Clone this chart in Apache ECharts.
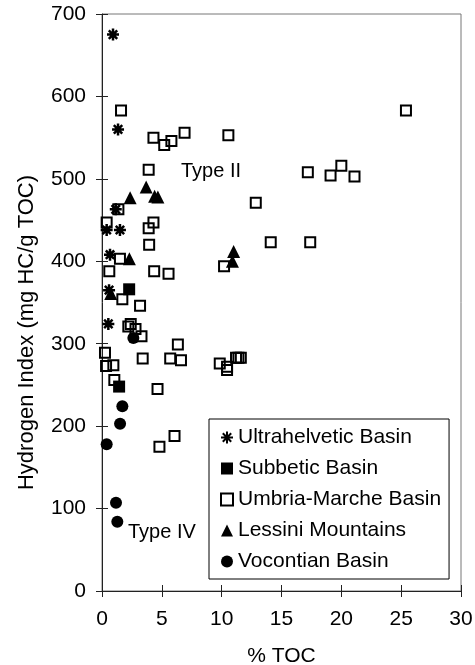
<!DOCTYPE html>
<html>
<head>
<meta charset="utf-8">
<title>Hydrogen Index vs TOC</title>
<script src="https://cdn.jsdelivr.net/npm/echarts@6/dist/echarts.min.js"></script>
<style>
  html, body { margin: 0; padding: 0; background: #fff; }
  #chart { width: 475px; height: 665px; }
</style>
</head>
<body>
<div id="chart"></div>
<script>
// values: [% TOC, HI]
var ultrahelvetic = [[0.92, 675], [1.34, 560], [1.15, 463], [0.39, 438], [1.5, 438],
  [0.67, 408], [0.59, 365], [0.53, 324]]
var subbetic = [[2.27, 366], [1.43, 248]]
var umbriaMarche = [[1.59, 583], [4.3, 550], [5.2, 541], [5.8, 546], [6.9, 556], [3.9, 511],
  [10.56, 553], [25.4, 583], [17.2, 508], [19.1, 504], [20.0, 516], [21.1, 503],
  [12.85, 471], [14.1, 423], [17.4, 423], [10.2, 394], [9.84, 276], [10.45, 268],
  [10.45, 272], [11.2, 283], [11.4, 283], [11.6, 283], [3.9, 440], [4.3, 447],
  [3.94, 420], [0.39, 447], [1.37, 463], [1.5, 403], [0.61, 388], [4.36, 388],
  [5.56, 385], [1.7, 354], [3.18, 346], [2.4, 324], [2.2, 321], [2.8, 318], [3.3, 309],
  [6.34, 299], [5.7, 282], [6.6, 280], [3.4, 282], [0.25, 289], [0.34, 273], [0.95, 274],
  [1.03, 256], [4.64, 245], [4.8, 175], [6.06, 188]]
var lessini = [[2.35, 477], [3.69, 490], [4.4, 479], [4.67, 478], [2.29, 403], [0.73, 361],
  [11.0, 412], [10.9, 400]]
var vocontian = [[2.62, 307], [1.7, 224], [1.51, 203], [0.39, 178], [1.17, 107], [1.28, 84]]

var seriesNames = ['Ultrahelvetic Basin', 'Subbetic Basin', 'Umbria-Marche Basin',
  'Lessini Mountains', 'Vocontian Basin']
var xTicks = { min: 0, max: 30, interval: 5 }
var yTicks = { min: 0, max: 700, interval: 100 }

var font = '"Liberation Sans", Arial, sans-serif'
var asterisk = 'path://M0,-6L0,6M-6,0L6,0M-4.2,-4.2L4.2,4.2M-4.2,4.2L4.2,-4.2'
var axisColor = '#222'

var chart = echarts.init(document.getElementById('chart'))
var option = {
  animation: false,
  backgroundColor: '#fff',
  textStyle: { fontFamily: font, color: '#000' },
  grid: {
    left: 102, right: 14, top: 14, bottom: 74,
    outerBoundsMode: 'none',
    show: true, borderColor: '#777', borderWidth: 1
  },
  legend: {
    orient: 'vertical',
    left: 209, top: 419,
    padding: [8, 8, 7, 11],
    itemGap: 10,
    itemWidth: 12, itemHeight: 12,
    backgroundColor: '#fff',
    borderColor: '#000', borderWidth: 1,
    textStyle: { fontFamily: font, fontSize: 21, color: '#000' },
    data: seriesNames
  },
  xAxis: [
    {
      type: 'value',
      min: xTicks.min, max: xTicks.max, interval: xTicks.interval,
      name: '% TOC', nameLocation: 'middle', nameGap: 55,
      nameTextStyle: { fontFamily: font, fontSize: 21, color: '#000' },
      axisLine: { show: true, lineStyle: { color: axisColor, width: 1 } },
      axisTick: { show: true, length: 6, lineStyle: { color: axisColor } },
      axisLabel: { fontFamily: font, fontSize: 21, color: '#000', margin: 18 },
      splitLine: { show: false }
    },
    {
      type: 'value', position: 'bottom',
      min: xTicks.min, max: xTicks.max, interval: xTicks.interval,
      axisLine: { show: false },
      axisTick: { show: true, inside: true, length: 6, lineStyle: { color: axisColor } },
      axisLabel: { show: false },
      splitLine: { show: false }
    }
  ],
  yAxis: [
    {
      type: 'value',
      min: yTicks.min, max: yTicks.max, interval: yTicks.interval,
      name: 'Hydrogen Index (mg HC/g TOC)', nameLocation: 'middle', nameGap: 64,
      nameTextStyle: { fontFamily: font, fontSize: 22, color: '#000', padding: [0, 60, 0, 0] },
      axisLine: { show: true, lineStyle: { color: axisColor, width: 1 } },
      axisTick: { show: true, length: 6, lineStyle: { color: axisColor } },
      axisLabel: { fontFamily: font, fontSize: 21, color: '#000', margin: 16 },
      splitLine: { show: false }
    },
    {
      type: 'value', position: 'left',
      min: yTicks.min, max: yTicks.max, interval: yTicks.interval,
      axisLine: { show: false },
      axisTick: { show: true, inside: true, length: 6, lineStyle: { color: axisColor } },
      axisLabel: { show: false },
      splitLine: { show: false }
    }
  ],
  graphic: [
    { type: 'text', left: 181, top: 161, style: { text: 'Type II', font: '20px ' + font, fill: '#000' } },
    { type: 'text', left: 128, top: 522, style: { text: 'Type IV', font: '20px ' + font, fill: '#000' } }
  ],
  series: [
    {
      name: seriesNames[0], type: 'scatter', data: ultrahelvetic,
      symbol: asterisk, symbolSize: 12,
      itemStyle: { color: 'transparent', borderColor: '#000', borderWidth: 2.5, opacity: 1 }
    },
    {
      name: seriesNames[1], type: 'scatter', data: subbetic,
      symbol: 'rect', symbolSize: 12,
      itemStyle: { color: '#000', opacity: 1 }
    },
    {
      name: seriesNames[2], type: 'scatter', data: umbriaMarche,
      symbol: 'rect', symbolSize: 10,
      itemStyle: { color: 'transparent', borderColor: '#000', borderWidth: 2, opacity: 1 }
    },
    {
      name: seriesNames[3], type: 'scatter', data: lessini,
      symbol: 'triangle', symbolSize: 13,
      itemStyle: { color: '#000', opacity: 1 }
    },
    {
      name: seriesNames[4], type: 'scatter', data: vocontian,
      symbol: 'circle', symbolSize: 12,
      itemStyle: { color: '#000', opacity: 1 }
    }
  ]
}
chart.setOption(option)
</script>
</body>
</html>
